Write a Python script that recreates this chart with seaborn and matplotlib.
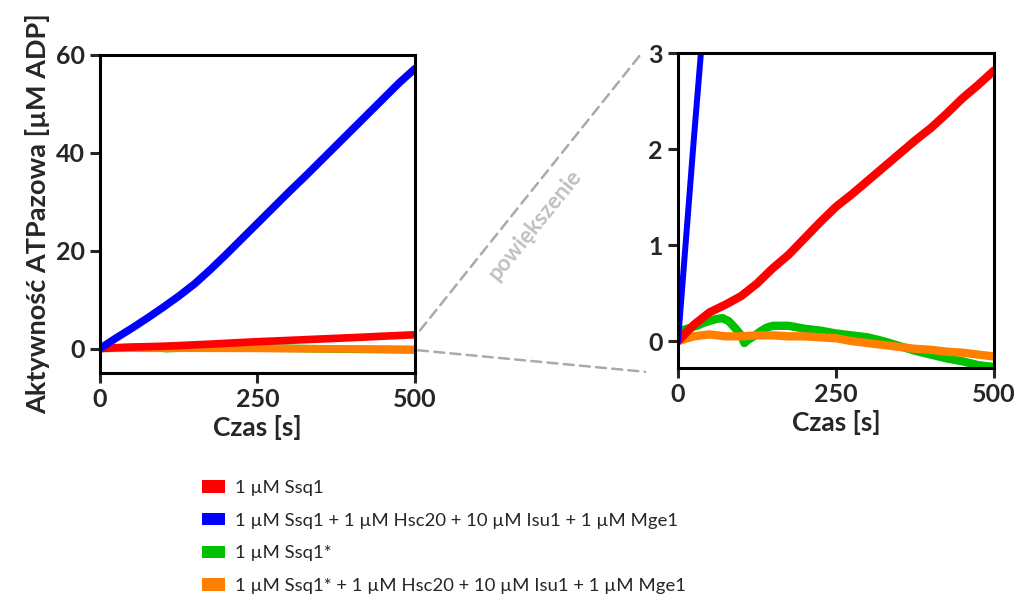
import matplotlib
matplotlib.use("Agg")
import matplotlib.pyplot as plt
import seaborn as sns
from matplotlib.patches import Patch, ConnectionPatch

# time grid [s] and curves
czas = [0, 25, 50, 75, 100, 125, 150, 175, 200, 225, 250,
        275, 300, 325, 350, 375, 400, 425, 450, 475, 500]

ssq1_full = [0, 2.1, 4.1, 6.2, 8.4, 10.7, 13.2, 16.1, 19.2, 22.4, 25.6,
             28.8, 32.0, 35.1, 38.3, 41.5, 44.7, 47.9, 51.1, 54.3, 57.2]

ssq1 = [0, 0.17, 0.30, 0.38, 0.47, 0.60, 0.76, 0.90, 1.07, 1.24, 1.40,
        1.53, 1.67, 1.81, 1.95, 2.09, 2.22, 2.37, 2.53, 2.67, 2.82]

ssq1_mut_full = [0, 0.05, 0.07, 0.05, 0.05, 0.06, 0.06, 0.05, 0.05, 0.04, 0.03,
                 0.0, -0.02, -0.04, -0.06, -0.08, -0.09, -0.11, -0.12, -0.14, -0.16]

czas_mut = [0, 10, 20, 30, 40, 50, 60, 70, 80, 90, 100, 105, 110, 120, 130, 140,
            150, 175, 200, 225, 250, 275, 300, 325, 350, 375, 400, 425, 450, 475, 500]
ssq1_mut = [0, 0.12, 0.14, 0.16, 0.19, 0.21, 0.23, 0.24, 0.21, 0.14, 0.06, -0.02,
            0.01, 0.05, 0.10, 0.14, 0.16, 0.16, 0.13, 0.11, 0.08, 0.06, 0.04, 0.0,
            -0.05, -0.10, -0.14, -0.18, -0.21, -0.25, -0.27]

labels = ["1 µM Ssq1",
          "1 µM Ssq1 + 1 µM Hsc20 + 10 µM Isu1 + 1 µM Mge1",
          "1 µM Ssq1*",
          "1 µM Ssq1* + 1 µM Hsc20 + 10 µM Isu1 + 1 µM Mge1"]
colors = ["#ff0000", "#0000ff", "#00c000", "#ff8000"]

sns.set_theme(style="ticks")
plt.rcParams["font.family"] = ["Lato", "DejaVu Sans"]

fig = plt.figure(figsize=(10.18, 5.95), dpi=100)
ax1 = fig.add_axes([0.0982, 0.3731, 0.3094, 0.5345])
ax2 = fig.add_axes([0.666, 0.3815, 0.3104, 0.529])


def draw(ax, lw_main, lw_noisy):
    sns.lineplot(x=czas_mut, y=ssq1_mut, ax=ax, color=colors[2], lw=lw_noisy,
                 estimator=None, sort=False)
    sns.lineplot(x=czas, y=ssq1_mut_full, ax=ax, color=colors[3], lw=lw_noisy,
                 estimator=None, sort=False)
    sns.lineplot(x=czas, y=ssq1, ax=ax, color=colors[0], lw=lw_noisy,
                 estimator=None, sort=False)
    sns.lineplot(x=czas, y=ssq1_full, ax=ax, color=colors[1], lw=lw_main,
                 estimator=None, sort=False)

    ax.set_xlim(0, 500)
    ax.set_xticks([0, 250, 500])
    for s in ax.spines.values():
        s.set_visible(True)
        s.set_linewidth(2.2)
        s.set_color("black")
    ax.tick_params(width=2.2, length=7, labelsize=18, pad=4)
    ax.set_xlabel("Czas [s]", fontsize=19, fontweight="bold", labelpad=3)


draw(ax1, 5.5, 5.5)
ax1.set_ylim(-5, 60)
ax1.set_yticks([0, 20, 40, 60])
ax1.set_ylabel("Aktywność ATPazowa [µM ADP]", fontsize=19.5, fontweight="bold", labelpad=4)
for t in ax1.get_xticklabels() + ax1.get_yticklabels():
    t.set_fontweight("bold")

draw(ax2, 4.3, 6)
ax2.set_ylim(-0.28, 3)
ax2.set_yticks([0, 1, 2, 3])
ax2.set_ylabel("")
for t in ax2.get_xticklabels() + ax2.get_yticklabels():
    t.set_fontweight("bold")

# zoom connectors
for xyA, xyB in [((508, 3.7), (-0.12, 0.994)), ((505, -0.35), (-0.104, -0.012))]:
    con = ConnectionPatch(xyA=xyA, coordsA=ax1.transData, xyB=xyB, coordsB=ax2.transAxes,
                          color="#aaaaaa", lw=1.8, linestyle=(0, (4, 2.5)))
    con.set_clip_on(False)
    fig.add_artist(con)

fig.text(535 / 1018, 1 - 225 / 595, "powiększenie", rotation=51, color="#c0c0c0",
         fontsize=16, fontweight="bold", ha="center", va="center")

handles = [Patch(facecolor=c, edgecolor="none") for c in colors]
fig.legend(handles, labels, loc="upper left", bbox_to_anchor=(202 / 1018, 1 - 480 / 595),
           frameon=False, fontsize=13.3, handlelength=1.25, handleheight=0.65,
           handletextpad=0.55, labelspacing=0.9, borderpad=0, borderaxespad=0)

fig.savefig("out.png", dpi=100)
